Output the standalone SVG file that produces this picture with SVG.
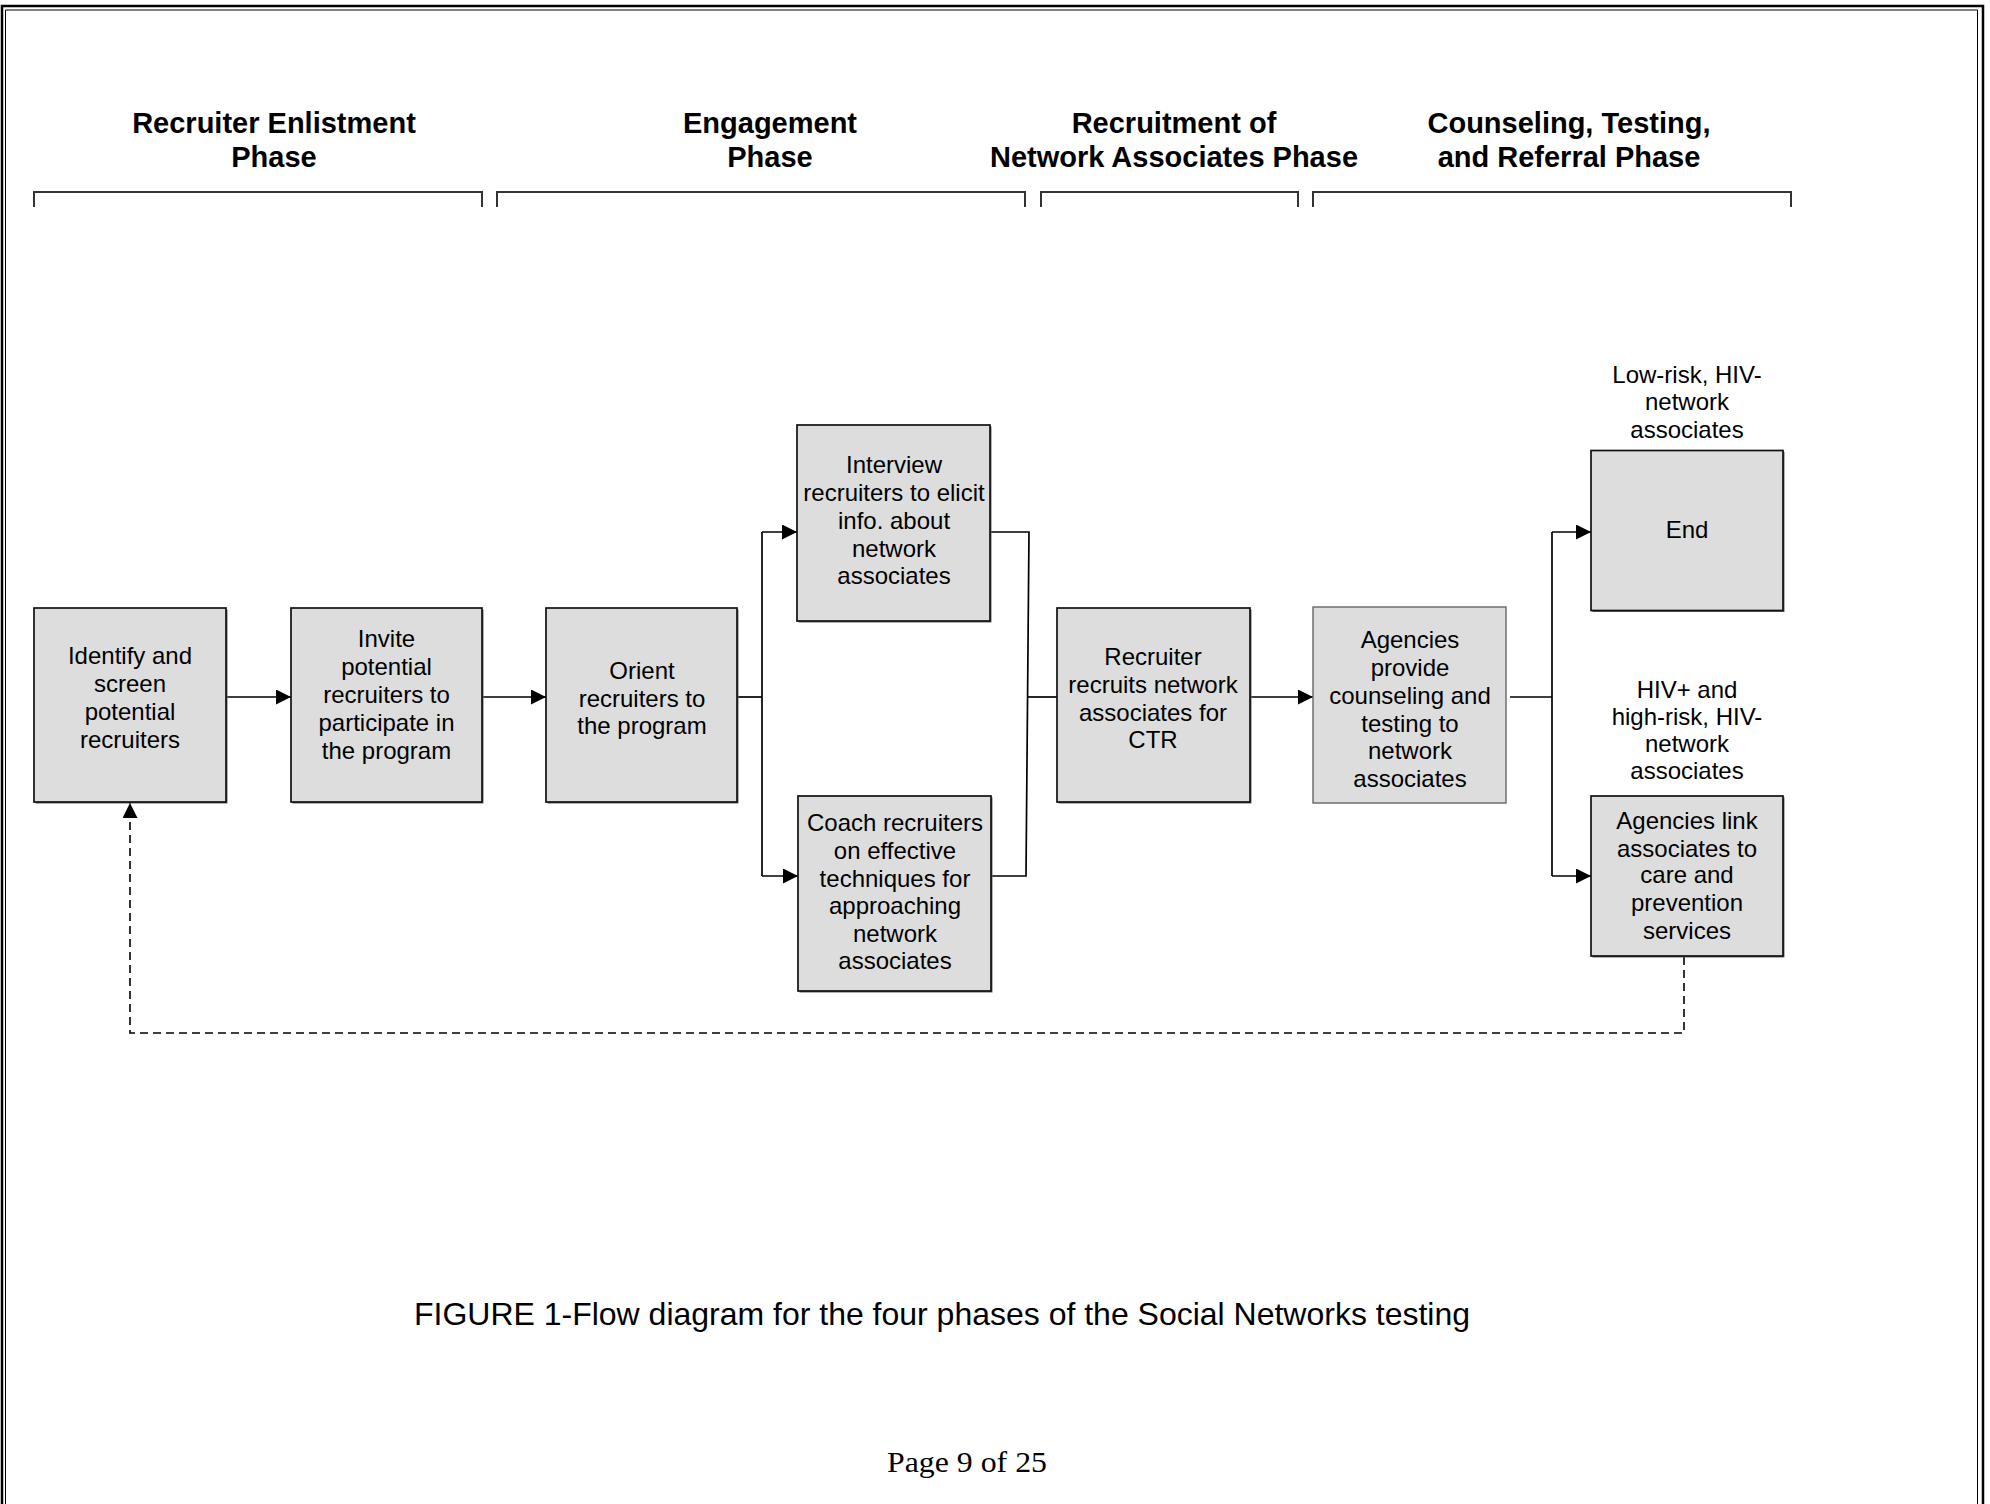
<svg xmlns="http://www.w3.org/2000/svg" width="1990" height="1504" viewBox="0 0 1990 1504">
<defs>
<style>
.hdr{font-family:"Liberation Sans",Arial,sans-serif;font-size:29px;font-weight:bold;fill:#000;text-anchor:middle}
.t{font-family:"Liberation Sans",Arial,sans-serif;font-size:24px;fill:#000;text-anchor:middle}
.box{fill:#dddddd;stroke:#111;stroke-width:1.7}
.shadow{fill:#666;stroke:none}
.box2{fill:#dddddd;stroke:#666;stroke-width:1.4}
.br{fill:none;stroke:#333;stroke-width:2}
.c{fill:none;stroke:#000;stroke-width:1.7}
.dash{fill:none;stroke:#000;stroke-width:1.6;stroke-dasharray:8 5}
</style>
<marker id="ah" viewBox="0 0 15 15" refX="15" refY="7.5" markerWidth="15" markerHeight="15" markerUnits="userSpaceOnUse" orient="auto">
<path d="M0,0 L15,7.5 L0,15 z" fill="#000"/>
</marker>
</defs>
<rect x="0" y="0" width="1990" height="1504" fill="#fff"/>
<g id="page-border">
<path d="M2,1510 V6 H1983 V1510" fill="none" stroke="#000" stroke-width="2.5"/>
<path d="M5.5,1510 V10 H1977.5 V1510" fill="none" stroke="#000" stroke-width="1"/>
</g>
<g id="phase-headers">
<text class="hdr" x="274" y="133">Recruiter Enlistment</text>
<text class="hdr" x="274" y="167">Phase</text>
<text class="hdr" x="770" y="133">Engagement</text>
<text class="hdr" x="770" y="167">Phase</text>
<text class="hdr" x="1174" y="133">Recruitment of</text>
<text class="hdr" x="1174" y="167">Network Associates Phase</text>
<text class="hdr" x="1569" y="133">Counseling, Testing,</text>
<text class="hdr" x="1569" y="167">and Referral Phase</text>
<path class="br" d="M34,207 V192 H482 V207"/>
<path class="br" d="M497,207 V192 H1025 V207"/>
<path class="br" d="M1041,207 V192 H1298 V207"/>
<path class="br" d="M1313,207 V192 H1791 V207"/>
</g>
<g id="connectors">
<path class="c" d="M226,697 H291" marker-end="url(#ah)"/>
<path class="c" d="M482,697 H546" marker-end="url(#ah)"/>
<path class="c" d="M737,697 H762"/>
<path class="c" d="M762,532 V876"/>
<path class="c" d="M762,532 H797" marker-end="url(#ah)"/>
<path class="c" d="M762,876 H798" marker-end="url(#ah)"/>
<path class="c" d="M990,532 H1029 L1026,876 H988"/>
<path class="c" d="M1027,697 H1057"/>
<path class="c" d="M1250,697 H1313" marker-end="url(#ah)"/>
<path class="c" d="M1510,697 H1552"/>
<path class="c" d="M1552,532 V876"/>
<path class="c" d="M1552,532 H1591" marker-end="url(#ah)"/>
<path class="c" d="M1552,876 H1591" marker-end="url(#ah)"/>
<path class="dash" d="M1684,957 V1033 H130 V803" marker-end="url(#ah)"/>
</g>
<g id="node-identify">
<rect class="shadow" x="35.5" y="609.5" width="192" height="194"/>
<rect class="box" x="34" y="608" width="192" height="194"/>
<text class="t" x="130" y="664">Identify and</text>
<text class="t" x="130" y="692">screen</text>
<text class="t" x="130" y="720">potential</text>
<text class="t" x="130" y="748">recruiters</text>
</g>
<g id="node-invite">
<rect class="shadow" x="292.5" y="609.5" width="191" height="194"/>
<rect class="box" x="291" y="608" width="191" height="194"/>
<text class="t" x="386.5" y="647">Invite</text>
<text class="t" x="386.5" y="675">potential</text>
<text class="t" x="386.5" y="703">recruiters to</text>
<text class="t" x="386.5" y="731">participate in</text>
<text class="t" x="386.5" y="759">the program</text>
</g>
<g id="node-orient">
<rect class="shadow" x="547.5" y="609.5" width="191" height="194"/>
<rect class="box" x="546" y="608" width="191" height="194"/>
<text class="t" x="642" y="679">Orient</text>
<text class="t" x="642" y="706.5">recruiters to</text>
<text class="t" x="642" y="734">the program</text>
</g>
<g id="node-interview">
<rect class="shadow" x="798.5" y="426.5" width="193" height="196"/>
<rect class="box" x="797" y="425" width="193" height="196"/>
<text class="t" x="894" y="473">Interview</text>
<text class="t" x="894" y="501">recruiters to elicit</text>
<text class="t" x="894" y="529">info. about</text>
<text class="t" x="894" y="556.5">network</text>
<text class="t" x="894" y="584">associates</text>
</g>
<g id="node-coach">
<rect class="shadow" x="799.5" y="797.5" width="193" height="195"/>
<rect class="box" x="798" y="796" width="193" height="195"/>
<text class="t" x="895" y="831">Coach recruiters</text>
<text class="t" x="895" y="859">on effective</text>
<text class="t" x="895" y="887">techniques for</text>
<text class="t" x="895" y="914">approaching</text>
<text class="t" x="895" y="941.5">network</text>
<text class="t" x="895" y="969">associates</text>
</g>
<g id="node-recruiter">
<rect class="shadow" x="1058.5" y="609.5" width="193" height="194"/>
<rect class="box" x="1057" y="608" width="193" height="194"/>
<text class="t" x="1153" y="664.5">Recruiter</text>
<text class="t" x="1153" y="692.5">recruits network</text>
<text class="t" x="1153" y="720.5">associates for</text>
<text class="t" x="1153" y="747.5">CTR</text>
</g>
<g id="node-agencies-provide">
<rect class="box2" x="1313" y="607" width="193" height="196"/>
<text class="t" x="1410" y="648">Agencies</text>
<text class="t" x="1410" y="676">provide</text>
<text class="t" x="1410" y="704">counseling and</text>
<text class="t" x="1410" y="731.5">testing to</text>
<text class="t" x="1410" y="759">network</text>
<text class="t" x="1410" y="786.5">associates</text>
</g>
<g id="node-end">
<text class="t" x="1687" y="383">Low-risk, HIV-</text>
<text class="t" x="1687" y="410">network</text>
<text class="t" x="1687" y="437.5">associates</text>
<rect class="shadow" x="1592.5" y="452" width="192" height="160"/>
<rect class="box" x="1591" y="450.5" width="192" height="160"/>
<text class="t" x="1687" y="537.5">End</text>
</g>
<g id="node-agencies-link">
<text class="t" x="1687" y="697.5">HIV+ and</text>
<text class="t" x="1687" y="724.5">high-risk, HIV-</text>
<text class="t" x="1687" y="752">network</text>
<text class="t" x="1687" y="779">associates</text>
<rect class="shadow" x="1592.5" y="797.5" width="192" height="160"/>
<rect class="box" x="1591" y="796" width="192" height="160"/>
<text class="t" x="1687" y="828.5">Agencies link</text>
<text class="t" x="1687" y="856.5">associates to</text>
<text class="t" x="1687" y="883">care and</text>
<text class="t" x="1687" y="911">prevention</text>
<text class="t" x="1687" y="939">services</text>
</g>
<g id="caption">
<text x="942" y="1325" font-family="'Liberation Sans',Arial,sans-serif" font-size="32" text-anchor="middle" textLength="1056" lengthAdjust="spacingAndGlyphs">FIGURE 1-Flow diagram for the four phases of the Social Networks testing</text>
<text x="967" y="1472" font-family="'Liberation Serif','Times New Roman',serif" font-size="30" text-anchor="middle" textLength="160" lengthAdjust="spacingAndGlyphs">Page 9 of 25</text>
</g>
</svg>
